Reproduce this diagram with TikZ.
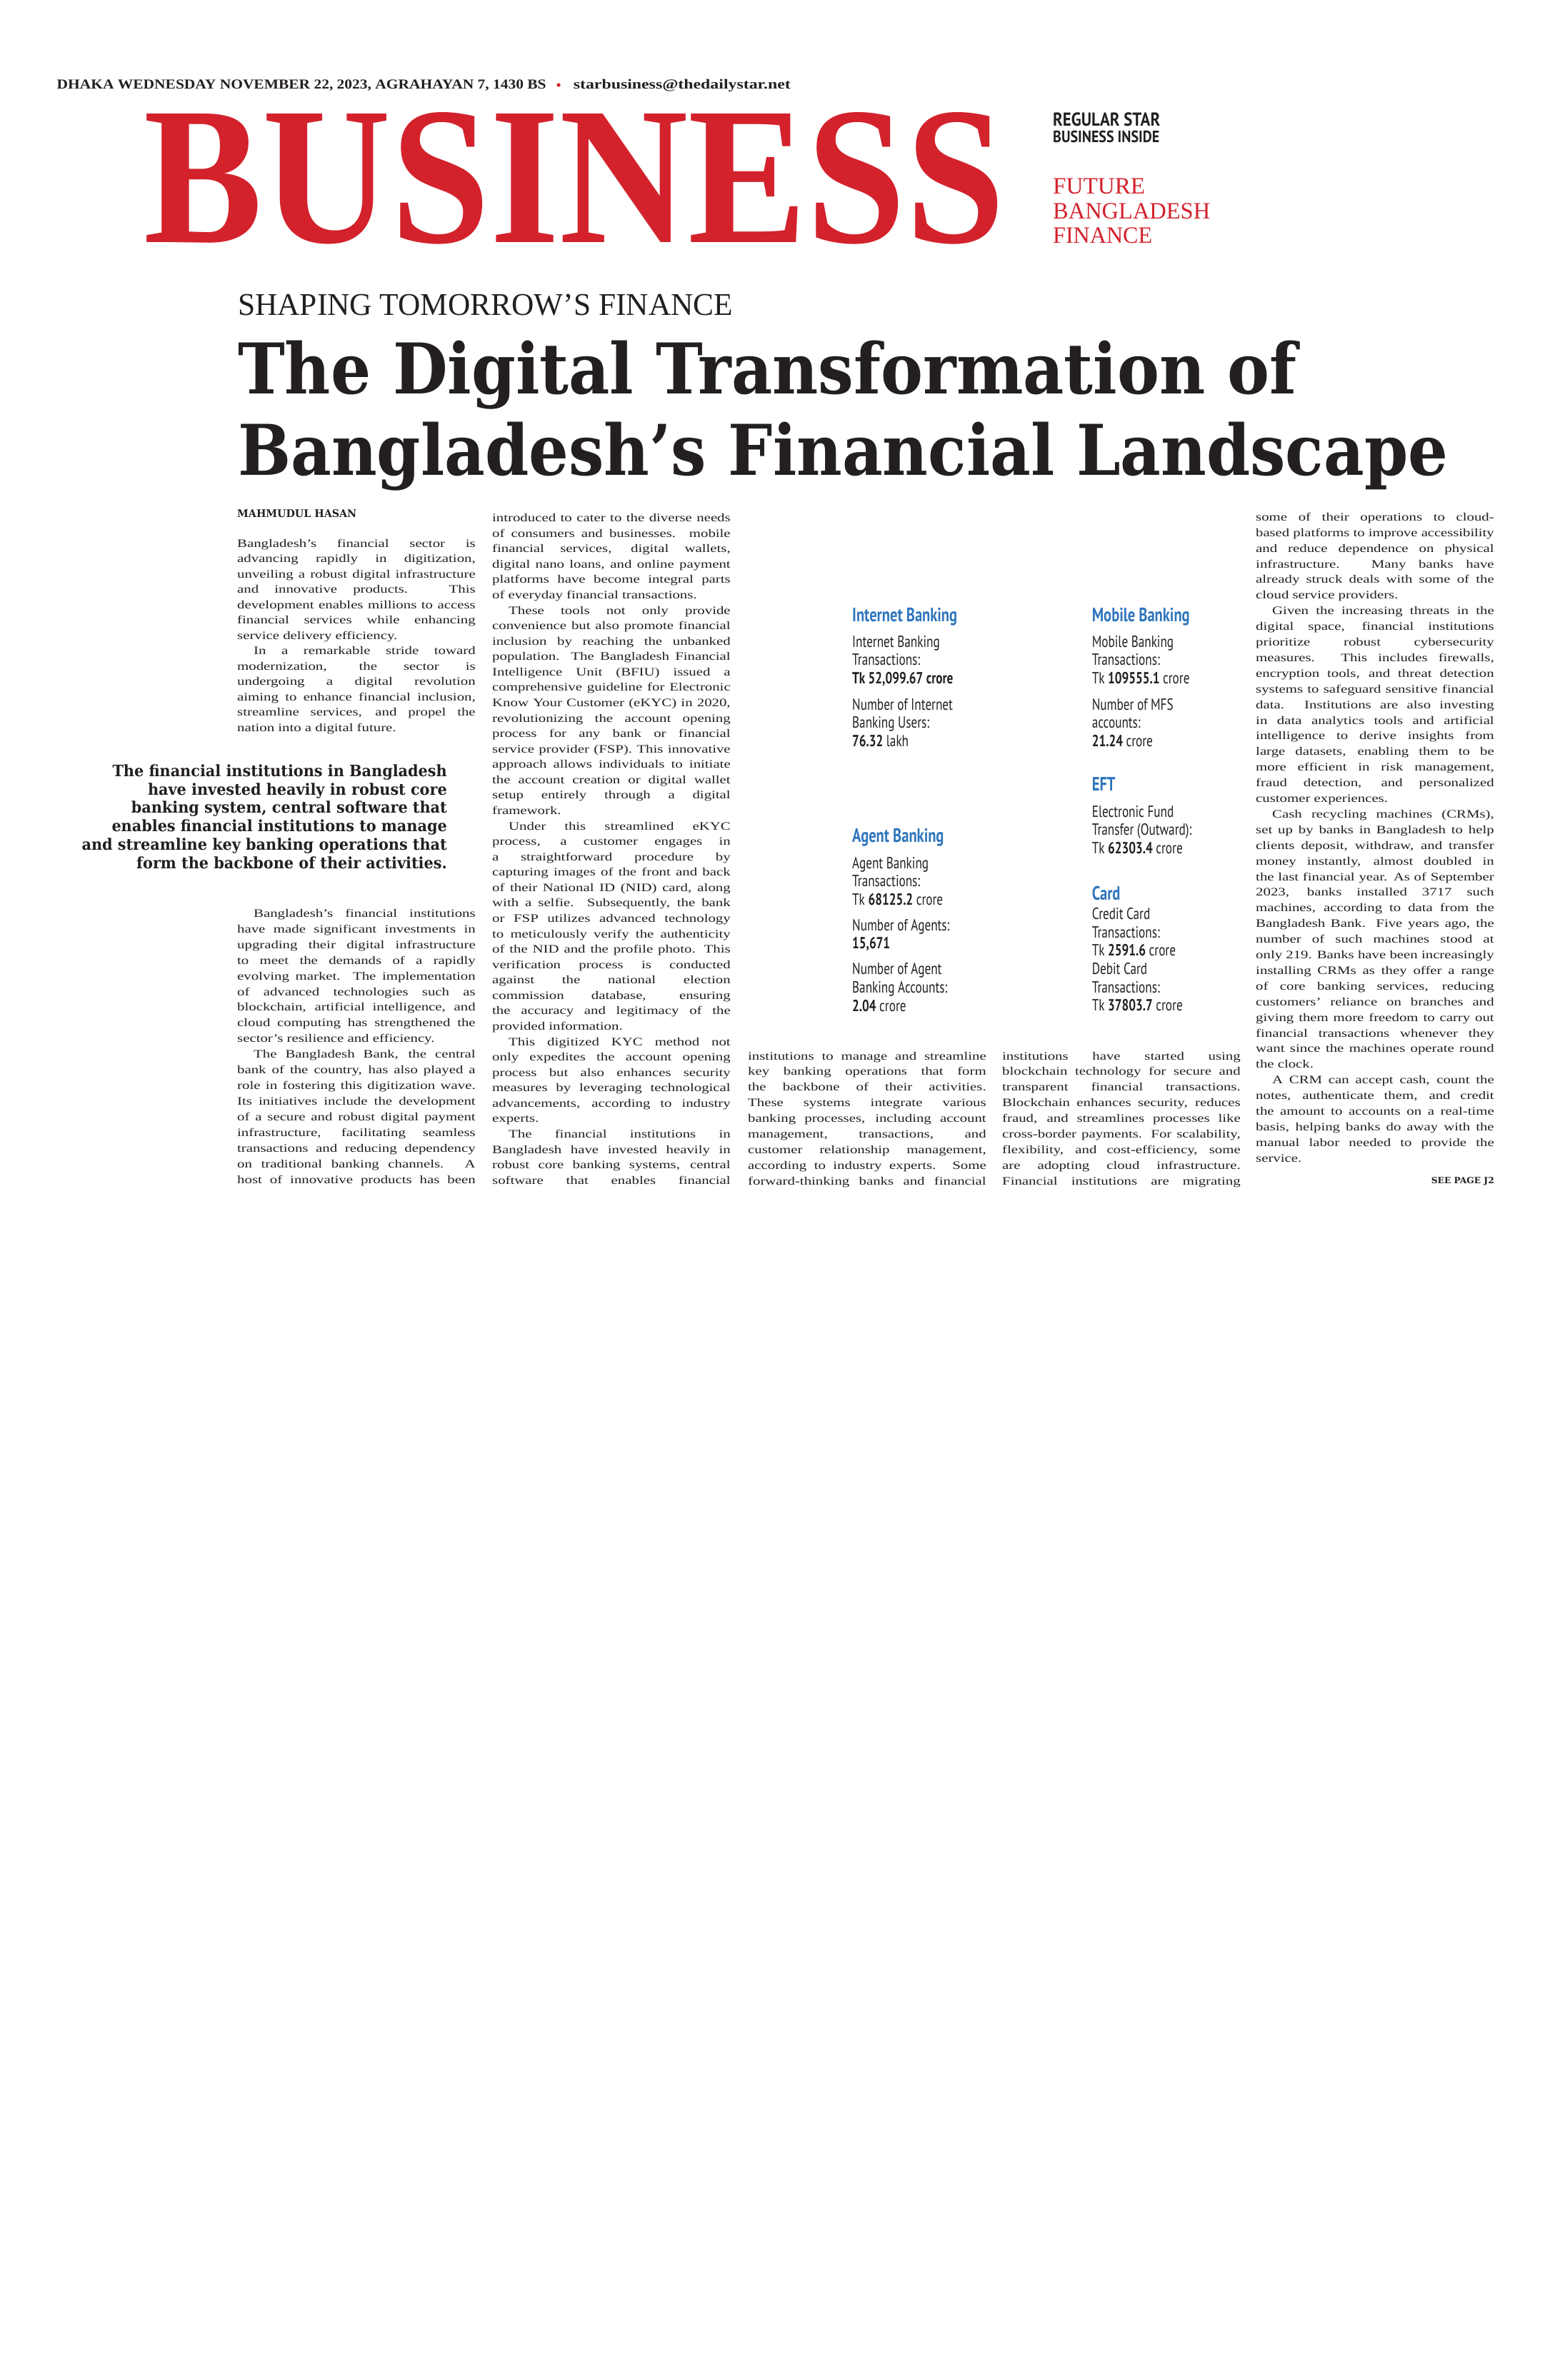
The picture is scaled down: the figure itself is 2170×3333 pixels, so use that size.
\documentclass[tikz,border=0pt]{standalone}
\usepackage{fontspec}
\usepackage{graphicx}
\setmainfont{Liberation Serif}
\newfontfamily\bodyfont[FakeStretch=1.3]{Liberation Serif}
\newfontfamily\headfont{DejaVu Serif}
\newfontfamily\quotefont[FakeStretch=0.945]{DejaVu Serif}
\newfontfamily\infofont[FakeStretch=0.76]{PT Sans}
\newfontfamily\tagfont{PT Sans}
\definecolor{bizred}{RGB}{211,34,44}
\definecolor{infoblue}{RGB}{46,117,188}
\definecolor{inkblack}{RGB}{35,31,32}

\newsavebox\jlbox
\newcommand\fitw[2]{\resizebox{#1}{\height}{#2}}
\newcommand\jl[1]{\sbox\jlbox{#1}\ifdim\wd\jlbox>\hsize\hbox{\resizebox{\hsize}{\height}{\usebox\jlbox}}\else\hbox to\hsize{#1}\fi}
\newcommand\ji[1]{\jl{\hskip23pt #1}}
\newcommand\jend[1]{\hbox{#1}}
\newcommand\rl[1]{\hbox to\hsize{\hfil#1}}
\newcommand\colblock[2]{\vtop{\hsize=333.5pt\bodyfont\fontsize{16pt}{#1}\selectfont\lineskiplimit=-\maxdimen #2}}
\newcommand\stk[1]{\vtop{\lineskiplimit=-\maxdimen #1}}

\begin{document}
\begin{tikzpicture}[x=1pt, y=-1pt,
  every node/.style={inner sep=0pt, text=inkblack},
  col/.style={anchor=base west},
  tag/.style={anchor=base west, font=\tagfont\bfseries},
  redtag/.style={anchor=base west, text=bizred},
  infohead/.style={anchor=base west, text=infoblue, font=\infofont\bfseries\fontsize{27}{27}\selectfont},
  info/.style={anchor=base west, font=\infofont\fontsize{22.6}{25.7}\selectfont}]

  \fill[white] (0,0) rectangle (2170,3333);
  \useasboundingbox (0,0) rectangle (2170,3333);

  % masthead
  \node[col] (dateline) at (79.5,124.3) {\fitw{685pt}{\bfseries\fontsize{19.2}{19.2}\selectfont DHAKA WEDNESDAY NOVEMBER 22, 2023, AGRAHAYAN 7, 1430 BS}};
  \fill[bizred] (782,119) circle (2.6);
  \node[col] (email) at (802.6,124.3) {\fitw{304pt}{\bfseries\fontsize{19.2}{19.2}\selectfont starbusiness@thedailystar.net}};
  \node[col, text=bizred] (mast) at (201,339) {\fitw{1206pt}{\bfseries\fontsize{275}{275}\selectfont BUSINESS}};
  \node[tag] (regstar) at (1474,176.7) {\fitw{150pt}{\fontsize{26.3}{26.3}\selectfont REGULAR STAR}};
  \node[tag] (bizinside) at (1474,199.3) {\fitw{149pt}{\fontsize{22.9}{22.9}\selectfont BUSINESS INSIDE}};
  \node[redtag] (future) at (1474,271.7) {\fitw{129pt}{\fontsize{32.8}{32.8}\selectfont FUTURE}};
  \node[redtag] (bangla) at (1474,306.7) {\fitw{220pt}{\fontsize{32.8}{32.8}\selectfont BANGLADESH}};
  \node[redtag] (finance) at (1474,340.7) {\fitw{139pt}{\fontsize{32.8}{32.8}\selectfont FINANCE}};

  % headline
  \node[col] (kicker) at (333,441) {\fitw{693pt}{\fontsize{44.3}{44.3}\selectfont SHAPING TOMORROW’S FINANCE}};
  \node[col] (head1) at (333,551.7) {\fitw{1482pt}{\headfont\bfseries\fontsize{98}{98}\selectfont The Digital Transformation of}};
  \node[col] (head2) at (333,665) {\fitw{1694pt}{\headfont\bfseries\fontsize{98}{98}\selectfont Bangladesh’s Financial Landscape}};

  \node[col] (byline) at (332,724) {\fitw{167pt}{\headfont\bfseries\fontsize{14.7}{14.7}\selectfont MAHMUDUL HASAN}};

  % column 1
  \node[col] (c1a) at (332,766) {\colblock{21.5pt}{%
    \jl{Bangladesh’s financial sector is}
    \jl{advancing rapidly in digitization,}
    \jl{unveiling a robust digital infrastructure}
    \jl{and innovative products. This}
    \jl{development enables millions to access}
    \jl{financial services while enhancing}
    \jend{service delivery efficiency.}
    \ji{In a remarkable stride toward}
    \jl{modernization, the sector is}
    \jl{undergoing a digital revolution}
    \jl{aiming to enhance financial inclusion,}
    \jl{streamline services, and propel the}
    \jend{nation into a digital future.}}};

  \node[anchor=base east] (pull) at (626,1087.5) {\vtop{\hsize=560pt\quotefont\bfseries\fontsize{22}{25.7}\selectfont\lineskiplimit=-\maxdimen
    \rl{The financial institutions in Bangladesh}
    \rl{have invested heavily in robust core}
    \rl{banking system, central software that}
    \rl{enables financial institutions to manage}
    \rl{and streamline key banking operations that}
    \rl{form the backbone of their activities.}}};

  \node[col] (c1b) at (332,1284.3) {\colblock{21.94pt}{%
    \ji{Bangladesh’s financial institutions}
    \jl{have made significant investments in}
    \jl{upgrading their digital infrastructure}
    \jl{to meet the demands of a rapidly}
    \jl{evolving market. The implementation}
    \jl{of advanced technologies such as}
    \jl{blockchain, artificial intelligence, and}
    \jl{cloud computing has strengthened the}
    \jend{sector’s resilience and efficiency.}
    \ji{The Bangladesh Bank, the central}
    \jl{bank of the country, has also played a}
    \jl{role in fostering this digitization wave.}
    \jl{Its initiatives include the development}
    \jl{of a secure and robust digital payment}
    \jl{infrastructure, facilitating seamless}
    \jl{transactions and reducing dependency}
    \jl{on traditional banking channels. A}
    \jl{host of innovative products has been}}};

  % column 2
  \node[col] (c2) at (689,730.7) {\colblock{21.57pt}{%
    \jl{introduced to cater to the diverse needs}
    \jl{of consumers and businesses. mobile}
    \jl{financial services, digital wallets,}
    \jl{digital nano loans, and online payment}
    \jl{platforms have become integral parts}
    \jend{of everyday financial transactions.}
    \ji{These tools not only provide}
    \jl{convenience but also promote financial}
    \jl{inclusion by reaching the unbanked}
    \jl{population. The Bangladesh Financial}
    \jl{Intelligence Unit (BFIU) issued a}
    \jl{comprehensive guideline for Electronic}
    \jl{Know Your Customer (eKYC) in 2020,}
    \jl{revolutionizing the account opening}
    \jl{process for any bank or financial}
    \jl{service provider (FSP). This innovative}
    \jl{approach allows individuals to initiate}
    \jl{the account creation or digital wallet}
    \jl{setup entirely through a digital}
    \jend{framework.}
    \ji{Under this streamlined eKYC}
    \jl{process, a customer engages in}
    \jl{a straightforward procedure by}
    \jl{capturing images of the front and back}
    \jl{of their National ID (NID) card, along}
    \jl{with a selfie. Subsequently, the bank}
    \jl{or FSP utilizes advanced technology}
    \jl{to meticulously verify the authenticity}
    \jl{of the NID and the profile photo. This}
    \jl{verification process is conducted}
    \jl{against the national election}
    \jl{commission database, ensuring}
    \jl{the accuracy and legitimacy of the}
    \jend{provided information.}
    \ji{This digitized KYC method not}
    \jl{only expedites the account opening}
    \jl{process but also enhances security}
    \jl{measures by leveraging technological}
    \jl{advancements, according to industry}
    \jend{experts.}
    \ji{The financial institutions in}
    \jl{Bangladesh have invested heavily in}
    \jl{robust core banking systems, central}
    \jl{software that enables financial}}};

  % infographic
  \node[infohead] (inethead) at (1193,870.6) {Internet Banking};
  \node[info] (inet1) at (1193,906.2) {\stk{\hbox{Internet Banking}\hbox{Transactions:}\hbox{\textbf{Tk 52,099.67 crore}}}};
  \node[info] (inet2) at (1193,994) {\stk{\hbox{Number of Internet}\hbox{Banking Users:}\hbox{\textbf{76.32} lakh}}};
  \node[infohead] (agenthead) at (1193,1179.8) {Agent Banking};
  \node[info] (agent1) at (1193,1216.2) {\stk{\hbox{Agent Banking}\hbox{Transactions:}\hbox{Tk \textbf{68125.2} crore}}};
  \node[info] (agent2) at (1193,1303.2) {\stk{\hbox{Number of Agents:}\hbox{\textbf{15,671}}}};
  \node[info] (agent3) at (1193,1364.9) {\stk{\hbox{Number of Agent}\hbox{Banking Accounts:}\hbox{\textbf{2.04} crore}}};

  \node[infohead] (mobhead) at (1528.6,870.6) {Mobile Banking};
  \node[info] (mob1) at (1528.6,906.2) {\stk{\hbox{Mobile Banking}\hbox{Transactions:}\hbox{Tk \textbf{109555.1} crore}}};
  \node[info] (mob2) at (1528.6,994) {\stk{\hbox{Number of MFS}\hbox{accounts:}\hbox{\textbf{21.24} crore}}};
  \node[infohead] (efthead) at (1528.6,1107.9) {EFT};
  \node[info] (eft1) at (1528.6,1144.2) {\stk{\hbox{Electronic Fund}\hbox{Transfer (Outward):}\hbox{Tk \textbf{62303.4} crore}}};
  \node[infohead] (cardhead) at (1528.6,1260.9) {Card};
  \node[info] (card1) at (1528.6,1287.4) {\stk{\hbox{Credit Card}\hbox{Transactions:}\hbox{Tk \textbf{2591.6} crore}\hbox{Debit Card}\hbox{Transactions:}\hbox{Tk \textbf{37803.7} crore}}};

  % columns 3 and 4
  \node[col] (c3) at (1047,1484) {\colblock{21.9pt}{%
    \jl{institutions to manage and streamline}
    \jl{key banking operations that form}
    \jl{the backbone of their activities.}
    \jl{These systems integrate various}
    \jl{banking processes, including account}
    \jl{management, transactions, and}
    \jl{customer relationship management,}
    \jl{according to industry experts. Some}
    \jl{forward-thinking banks and financial}}};

  \node[col] (c4) at (1403,1484) {\colblock{21.9pt}{%
    \jl{institutions have started using}
    \jl{blockchain technology for secure and}
    \jl{transparent financial transactions.}
    \jl{Blockchain enhances security, reduces}
    \jl{fraud, and streamlines processes like}
    \jl{cross-border payments. For scalability,}
    \jl{flexibility, and cost-efficiency, some}
    \jl{are adopting cloud infrastructure.}
    \jl{Financial institutions are migrating}}};

  % column 5
  \node[col] (c5) at (1758,729.3) {\colblock{21.9pt}{%
    \jl{some of their operations to cloud-}
    \jl{based platforms to improve accessibility}
    \jl{and reduce dependence on physical}
    \jl{infrastructure. Many banks have}
    \jl{already struck deals with some of the}
    \jend{cloud service providers.}
    \ji{Given the increasing threats in the}
    \jl{digital space, financial institutions}
    \jl{prioritize robust cybersecurity}
    \jl{measures. This includes firewalls,}
    \jl{encryption tools, and threat detection}
    \jl{systems to safeguard sensitive financial}
    \jl{data. Institutions are also investing}
    \jl{in data analytics tools and artificial}
    \jl{intelligence to derive insights from}
    \jl{large datasets, enabling them to be}
    \jl{more efficient in risk management,}
    \jl{fraud detection, and personalized}
    \jend{customer experiences.}
    \ji{Cash recycling machines (CRMs),}
    \jl{set up by banks in Bangladesh to help}
    \jl{clients deposit, withdraw, and transfer}
    \jl{money instantly, almost doubled in}
    \jl{the last financial year. As of September}
    \jl{2023, banks installed 3717 such}
    \jl{machines, according to data from the}
    \jl{Bangladesh Bank. Five years ago, the}
    \jl{number of such machines stood at}
    \jl{only 219. Banks have been increasingly}
    \jl{installing CRMs as they offer a range}
    \jl{of core banking services, reducing}
    \jl{customers’ reliance on branches and}
    \jl{giving them more freedom to carry out}
    \jl{financial transactions whenever they}
    \jl{want since the machines operate round}
    \jend{the clock.}
    \ji{A CRM can accept cash, count the}
    \jl{notes, authenticate them, and credit}
    \jl{the amount to accounts on a real-time}
    \jl{basis, helping banks do away with the}
    \jl{manual labor needed to provide the}
    \jend{service.}}};

  \node[anchor=base east] (seepage) at (2092,1657.3) {\fitw{88pt}{\headfont\bfseries\fontsize{12}{12}\selectfont SEE PAGE J2}};
\end{tikzpicture}
\end{document}
